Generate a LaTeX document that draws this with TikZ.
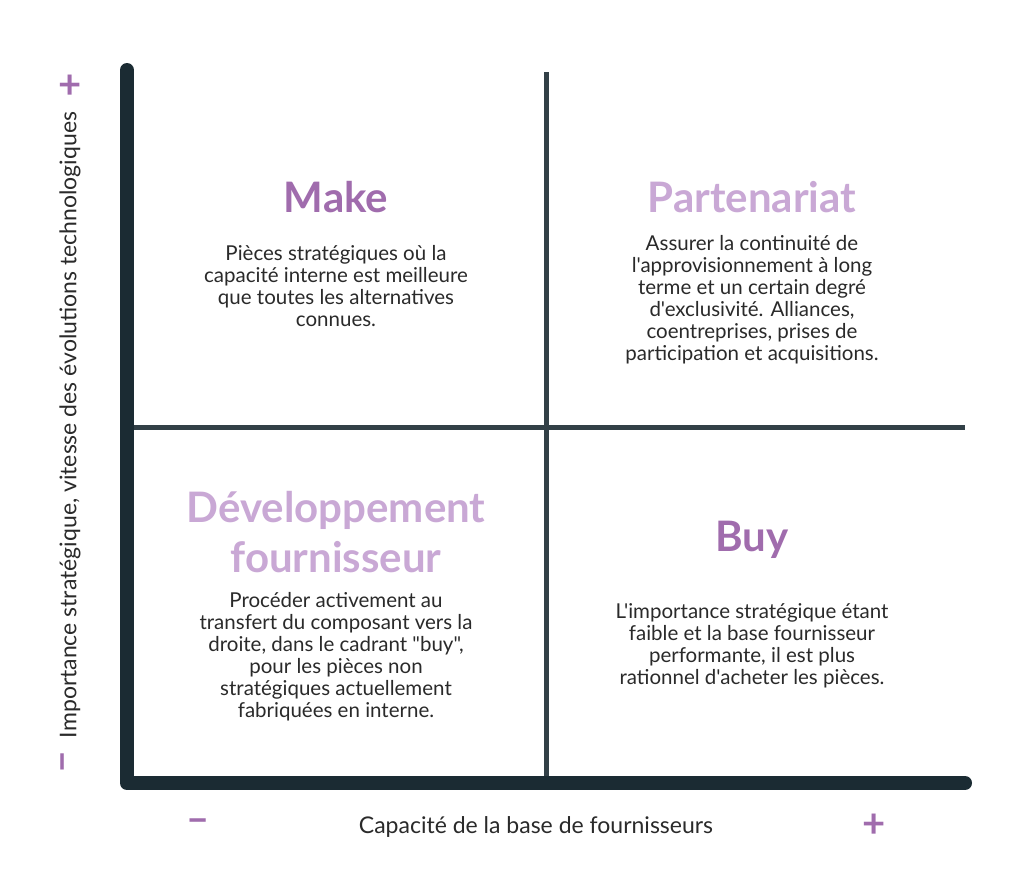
\documentclass[tikz,border=0pt]{standalone}
\usepackage{fontspec}
\setmainfont{Lato}[Ligatures=TeXOff]
\usepackage{tikz}

\definecolor{axe}{HTML}{1B2B33}
\definecolor{violet}{HTML}{A06CAD}
\definecolor{lilas}{HTML}{C9A8D5}
\definecolor{texte}{HTML}{2A2A2A}

\tikzset{
  titre/.style={font=\fontsize{42}{44}\selectfont\bfseries},
  corps/.style={font=\fontsize{20.5}{22}\selectfont,text=texte,align=center},
  legende/.style={font=\fontsize{23}{24}\selectfont,text=texte},
  signe/.style={font=\fontsize{40}{40}\selectfont\bfseries,text=violet}
}

\begin{document}
\begin{tikzpicture}[x=1pt,y=-1pt]
    \useasboundingbox[fill=white] (0,0) rectangle (1024,887);
    % quadrants
    \draw[axe!90,line width=5pt] (546,72) -- (546,778);
    \draw[axe!90,line width=5pt] (130,427) -- (965,427);
    % axes
    \draw[axe,line width=14pt,line cap=round,line join=round] (127,70) -- (127,783) -- (965,783);
    \node[titre,text=violet] (make) at (336,197) {Make};
    \node[corps] (maket) at (336,286) {Pièces stratégiques où la\\capacité interne est meilleure\\que toutes les alternatives\\connues.};
    \node[titre,text=lilas] (part) at (752,197) {Partenariat};
    \node[corps] (partt) at (752,300) {Assurer la continuité de\\l'approvisionnement à long\\terme et un certain degré\\d'exclusivité. Alliances,\\coentreprises, prises de\\participation et acquisitions.};
    \node[titre,text=lilas,align=center,font=\fontsize{42}{50}\selectfont\bfseries] (dev) at (336,532) {Développement\\fournisseur};
    \node[corps] (devt) at (336,657) {Procéder activement au\\transfert du composant vers la\\droite, dans le cadrant "buy",\\pour les pièces non\\stratégiques actuellement\\fabriquées en interne.};
    \node[titre,text=violet] (buy) at (752,540) {Buy};
    \node[corps] (buyt) at (752,646) {L'importance stratégique étant\\faible et la base fournisseur\\performante, il est plus\\rationnel d'acheter les pièces.};
    % libellés des axes
    \node[legende] (ax) at (536,827) {Capacité de la base de fournisseurs};
    \node[signe] (xmoins) at (198,826) {–};
    \node[signe] (xplus) at (874,826) {+};
    \node[legende,rotate=90] (ay) at (70,425) {Importance stratégique, vitesse des évolutions technologiques};
    \node[signe,rotate=90] (ymoins) at (68,762) {–};
    \node[signe] (yplus) at (70,87) {+};
\end{tikzpicture}
\end{document}
